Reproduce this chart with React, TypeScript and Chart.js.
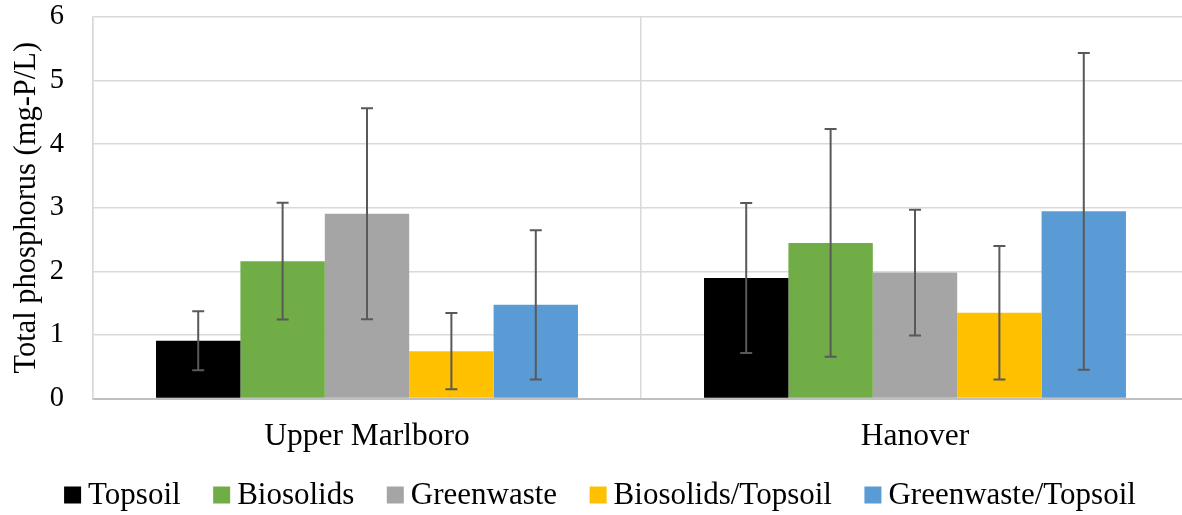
import React, { useEffect, useRef } from "react";
import { Chart, registerables } from "chart.js";

Chart.register(...registerables);

const categories = ["Upper Marlboro", "Hanover"];
const seriesNames = ["Topsoil", "Biosolids", "Greenwaste", "Biosolids/Topsoil", "Greenwaste/Topsoil"];
const seriesColors = ["#000000", "#70ad47", "#a5a5a5", "#ffc000", "#5b9bd5"];

const topsoil = [0.91, 1.895];
const biosolids = [2.16, 2.447];
const greenwaste = [2.906, 1.98];
const biosolidsTopsoil = [0.744, 1.347];
const greenwasteTopsoil = [1.473, 2.943];

const topsoilErr = [0.464, 1.18];
const biosolidsErr = [0.918, 1.79];
const greenwasteErr = [1.66, 0.99];
const biosolidsTopsoilErr = [0.6, 1.05];
const greenwasteTopsoilErr = [1.174, 2.49];

const yTicks = [0, 1, 2, 3, 4, 5, 6];
const yTitle = "Total phosphorus (mg-P/L)";

const seriesValues = [topsoil, biosolids, greenwaste, biosolidsTopsoil, greenwasteTopsoil];
const seriesErrors = [topsoilErr, biosolidsErr, greenwasteErr, biosolidsTopsoilErr, greenwasteTopsoilErr];

const FONT = "'Liberation Serif', 'Times New Roman', serif";

const errorBarPlugin = {
  id: "errorBars",
  afterDatasetsDraw(chart: any) {
    const ctx = chart.ctx;
    const yScale = chart.scales.y;
    ctx.save();
    ctx.strokeStyle = "#595959";
    ctx.lineWidth = 2;
    chart.data.datasets.forEach((ds: any, di: number) => {
      const meta = chart.getDatasetMeta(di);
      if (meta.hidden) return;
      meta.data.forEach((el: any, i: number) => {
        const v = ds.data[i];
        const e = ds.errors[i];
        const yTop = yScale.getPixelForValue(v + e);
        const yBot = yScale.getPixelForValue(v - e);
        const x = el.x;
        const cap = 6;
        ctx.beginPath();
        ctx.moveTo(x, yTop);
        ctx.lineTo(x, yBot);
        ctx.moveTo(x - cap, yTop);
        ctx.lineTo(x + cap, yTop);
        ctx.moveTo(x - cap, yBot);
        ctx.lineTo(x + cap, yBot);
        ctx.stroke();
      });
    });
    ctx.restore();
  },
};

const legendPlugin = {
  id: "customLegend",
  afterDraw(chart: any) {
    const ctx = chart.ctx;
    ctx.save();
    ctx.font = `31px ${FONT}`;
    ctx.textBaseline = "middle";
    ctx.textAlign = "left";
    const box = 17;
    const gapText = 7;
    const gapItem = 32.5;
    const items = chart.data.datasets.map((ds: any) => ({
      text: ds.label,
      color: ds.backgroundColor,
      w: ctx.measureText(ds.label).width,
    }));
    const total =
      items.reduce((s: number, it: any) => s + box + gapText + it.w, 0) + gapItem * (items.length - 1);
    let x = chart.width / 2 - total / 2;
    const yMid = chart.height - 20;
    items.forEach((it: any) => {
      ctx.fillStyle = it.color;
      ctx.fillRect(x, yMid - box / 2, box, box);
      ctx.fillStyle = "#000";
      ctx.fillText(it.text, x + box + gapText, yMid + 1);
      x += box + gapText + it.w + gapItem;
    });
    ctx.restore();
  },
};

export default function App() {
  const ref = useRef<HTMLCanvasElement | null>(null);
  useEffect(() => {
    if (!ref.current) return;
    const chart = new Chart(ref.current, {
      type: "bar",
      data: {
        labels: categories,
        datasets: seriesNames.map((name, i) => ({
          label: name,
          data: seriesValues[i],
          errors: seriesErrors[i],
          backgroundColor: seriesColors[i],
          borderWidth: 0,
          categoryPercentage: 0.77,
          barPercentage: 1,
        })) as any,
      },
      options: {
        animation: false,
        responsive: false,
        maintainAspectRatio: false,
        layout: { padding: { top: 17, left: 0, right: 11, bottom: 56.5 } },
        plugins: {
          tooltip: { enabled: false },
          legend: { display: false },
        },
        scales: {
          x: {
            offset: true,
            grid: { display: true, offset: true, color: "#d9d9d9", lineWidth: 1.5, drawTicks: false },
            border: { display: true, color: "#bfbfbf", width: 2 },
            ticks: { color: "#000", font: { family: FONT, size: 31.5 }, padding: 19 },
            afterFit(scale: any) {
              scale.height = 60;
            },
          },
          y: {
            min: 0,
            max: 6,
            afterBuildTicks(scale: any) {
              scale.ticks = yTicks.map((v) => ({ value: v }));
            },
            afterFit(scale: any) {
              scale.width = 93;
              scale.paddingTop = 0;
              scale.paddingBottom = 0;
            },
            grid: { color: "#d9d9d9", lineWidth: 1.5, drawTicks: false },
            border: { display: true, color: "#d9d9d9", width: 1.5 },
            ticks: { color: "#000", font: { family: FONT, size: 28.5 }, padding: 29 },
            title: {
              display: true,
              text: yTitle,
              color: "#000",
              font: { family: FONT, size: 30.5 },
              padding: { top: 9, bottom: 0 },
            },
          },
        },
      },
      plugins: [errorBarPlugin, legendPlugin],
    } as any);
    return () => chart.destroy();
  }, []);
  return (
    <div style={{ position: "fixed", left: 0, top: 0, width: 1182, height: 515, overflow: "hidden", background: "#fff" }}>
      <div style={{ width: 1200, height: 515 }}>
        <canvas ref={ref} width={1200} height={515} style={{ width: 1200, height: 515, display: "block" }} />
      </div>
    </div>
  );
}
